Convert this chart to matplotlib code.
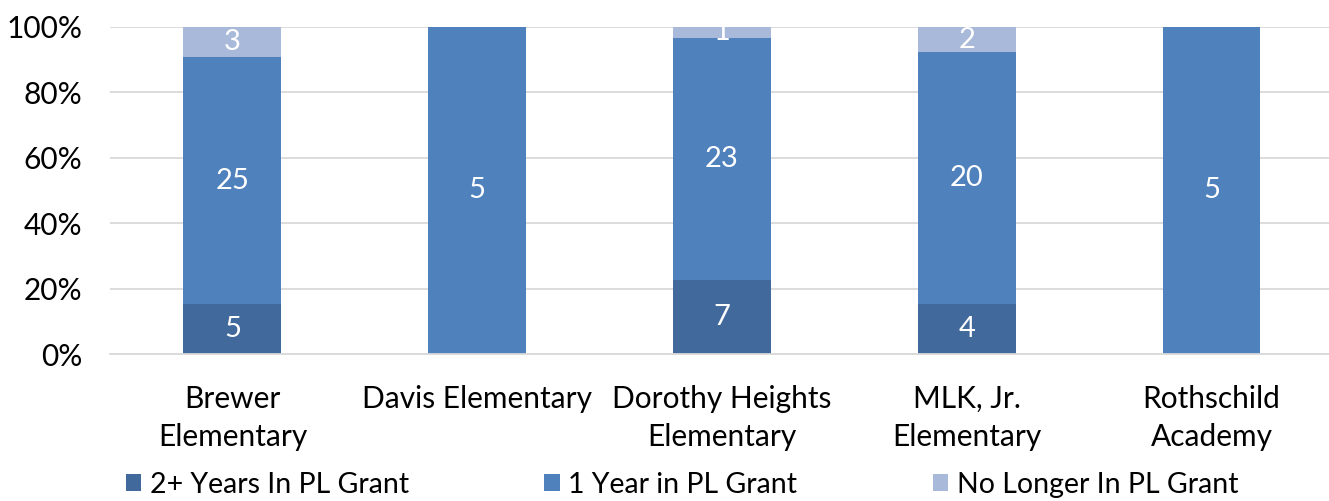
import matplotlib.pyplot as plt
import numpy as np
from matplotlib.ticker import PercentFormatter

plt.rcParams['font.family'] = ['Lato', 'DejaVu Sans']

schools = ["Brewer\nElementary", "Davis Elementary", "Dorothy Heights\nElementary",
           "MLK, Jr.\nElementary", "Rothschild\nAcademy"]
series_names = ["2+ Years In PL Grant", "1 Year in PL Grant", "No Longer In PL Grant"]
two_plus = [5, 0, 7, 4, 0]
one_year = [25, 5, 23, 20, 5]
no_longer = [3, 0, 1, 2, 0]
colors = ["#41699B", "#4F81BD", "#A9B9D9"]

counts = np.array([two_plus, one_year, no_longer], dtype=float)
totals = counts.sum(axis=0)
pct = counts / totals * 100

W, H = 1329, 501
fig = plt.figure(figsize=(W / 100, H / 100), dpi=100)
ax = fig.add_axes([110 / W, (501 - 354) / H, 1219 / W, 327 / H])

x = np.arange(len(schools))
bottom = np.zeros(len(schools))
for i, name in enumerate(series_names):
    bars = ax.bar(x, pct[i], 0.4, bottom=bottom, color=colors[i], label=name, zorder=2)
    for j, b in enumerate(bars):
        if counts[i, j] > 0:
            ax.text(b.get_x() + b.get_width() / 2, bottom[j] + pct[i, j] / 2,
                    f"{int(counts[i, j])}", ha="center", va="center",
                    color="white", fontsize=21)
    bottom += pct[i]

ax.set_xlim(-0.5, 4.48)
ax.set_ylim(0, 100)
ax.set_yticks(np.arange(0, 101, 20))
ax.yaxis.set_major_formatter(PercentFormatter(decimals=0))
ax.grid(axis="y", color="#D9D9D9", linewidth=1.3, zorder=0)
for s in ["top", "right", "left"]:
    ax.spines[s].set_visible(False)
ax.spines["bottom"].set_color("#D9D9D9")
ax.spines["bottom"].set_linewidth(1.3)
ax.tick_params(axis="y", length=0, pad=20, labelsize=21.5)
ax.tick_params(axis="x", length=0, pad=22, labelsize=21.5)
ax.set_xticks(x)
ax.set_xticklabels(schools, linespacing=1.45)

fig.legend(loc="lower left", bbox_to_anchor=(100 / W, -0.045), ncol=3, frameon=False,
           fontsize=20.5, handlelength=0.55, handleheight=0.55, handletextpad=0.3,
           columnspacing=4.75)

fig.savefig("out.png", dpi=100)
